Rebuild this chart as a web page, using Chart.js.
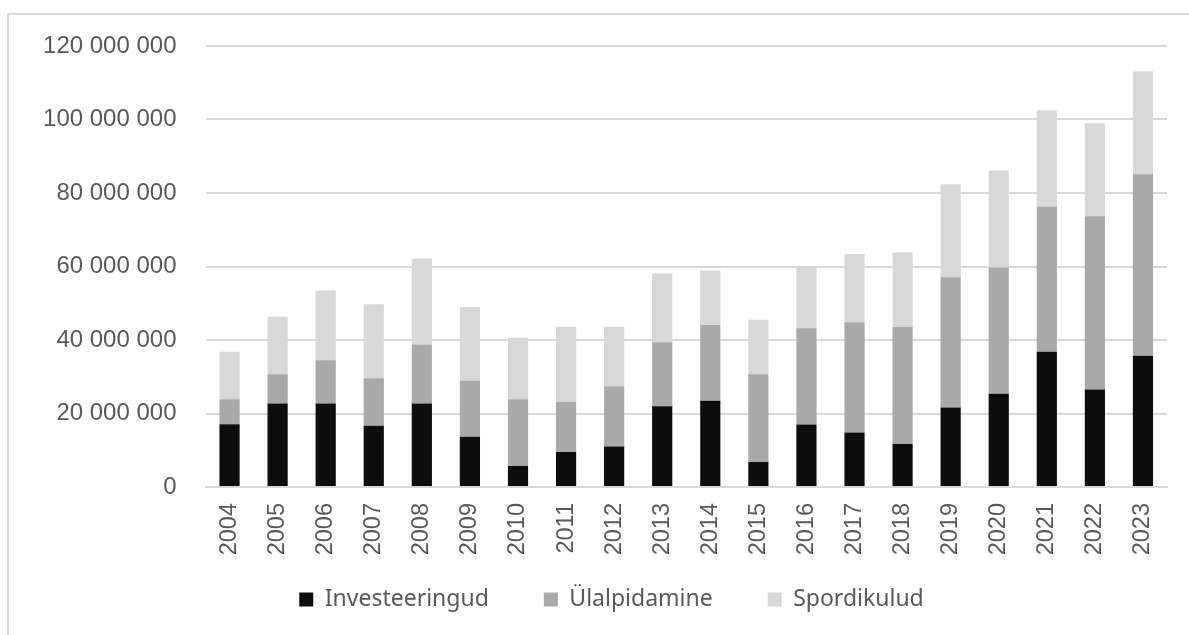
<!DOCTYPE html>
<html>
<head>
<meta charset="utf-8">
<script src="https://cdn.jsdelivr.net/npm/chart.js@4.4.1/dist/chart.umd.min.js"></script>
<style>
    html, body { margin: 0; padding: 0; background: #ffffff; }
    #frame {
        position: absolute; left: 7px; top: 13px; width: 1200px; height: 640px;
        border-left: 2px solid #d9d9d9; border-top: 2px solid #d9d9d9;
    }
    #wrap { position: absolute; left: 0; top: 0; width: 1189px; height: 635px; }
</style>
</head>
<body>
<div id="frame"></div>
<div id="wrap"><canvas id="kuluChart" width="1189" height="635"></canvas></div>
<script>
    // Aastad
    const aastad = ['2004', '2005', '2006', '2007', '2008', '2009', '2010', '2011', '2012', '2013',
                    '2014', '2015', '2016', '2017', '2018', '2019', '2020', '2021', '2022', '2023'];

    // Väärtused miljonites eurodes (loetud pildilt)
    const investeeringud = [17.1, 22.7, 22.7, 16.7, 22.7, 13.7, 5.7, 9.5, 11.0, 22.0,
                            23.5, 6.8, 17.0, 14.8, 11.7, 21.6, 25.4, 36.8, 26.5, 35.7];
    const ulalpidamine = [6.8, 8.0, 11.8, 12.9, 16.1, 15.2, 18.2, 13.7, 16.4, 17.4,
                          20.6, 23.9, 26.2, 30.0, 31.9, 35.5, 34.3, 39.5, 47.2, 49.4];
    const spordikulud = [12.9, 15.6, 19.0, 20.1, 23.4, 20.1, 16.7, 20.4, 16.2, 18.7,
                         14.8, 14.8, 16.8, 18.6, 20.2, 25.3, 26.4, 26.2, 25.3, 28.0];

    const yTelg = { min: 0, max: 120000000, samm: 20000000 };

    function miljonid(arr) {
        return arr.map(v => Math.round(v * 1000000));
    }

    function vorminda(v) {
        return String(v).replace(/\B(?=(\d{3})+(?!\d))/g, ' ');
    }

    // legendi vahed on laiad, seega tõstame legendi pärast paigutust ülespoole
    const legendNihe = {
        id: 'legendNihe',
        afterLayout(chart) {
            chart.legend.top -= 22;
            chart.legend.bottom -= 22;
        }
    };

    const ctx = document.getElementById('kuluChart').getContext('2d');
    new Chart(ctx, {
        type: 'bar',
        data: {
            labels: aastad,
            datasets: [
                { label: 'Investeeringud', data: miljonid(investeeringud), backgroundColor: '#0d0d0d' },
                { label: 'Ülalpidamine', data: miljonid(ulalpidamine), backgroundColor: '#a9a9a9' },
                { label: 'Spordikulud', data: miljonid(spordikulud), backgroundColor: '#d8d8d8' }
            ]
        },
        plugins: [legendNihe],
        options: {
            responsive: false,
            animation: false,
            datasets: { bar: { categoryPercentage: 1, barPercentage: 0.42 } },
            layout: { padding: { left: 34, right: 0, top: 46, bottom: -8 } },
            scales: {
                x: {
                    stacked: true,
                    grid: { display: false, drawTicks: false },
                    border: { color: '#d9d9d9', width: 2 },
                    ticks: {
                        color: '#595959', padding: 16, maxRotation: 90, minRotation: 90,
                        font: { family: 'Liberation Sans', size: 23.5 }
                    },
                    afterFit: function (scale) { scale.height = 68; }
                },
                y: {
                    stacked: true,
                    min: yTelg.min, max: yTelg.max,
                    grid: { color: '#d9d9d9', lineWidth: 2, drawTicks: false },
                    border: { display: false },
                    ticks: {
                        stepSize: yTelg.samm, color: '#595959', padding: 29,
                        font: { family: 'Liberation Sans', size: 24 },
                        callback: function (v) { return vorminda(v); }
                    },
                    afterFit: function (scale) { scale.width = 171.5; }
                },
                // tühi parem telg, et joonis lõppeks õiges kohas
                parem: {
                    position: 'right',
                    grid: { display: false, drawTicks: false },
                    border: { display: false },
                    ticks: { display: false },
                    afterFit: function (scale) { scale.width = 22; }
                }
            },
            plugins: {
                legend: {
                    position: 'bottom',
                    labels: {
                        boxWidth: 14, boxHeight: 14, padding: 55, color: '#595959',
                        font: { family: 'Noto Sans', size: 23 }
                    }
                },
                tooltip: { enabled: false }
            }
        }
    });
</script>
</body>
</html>
